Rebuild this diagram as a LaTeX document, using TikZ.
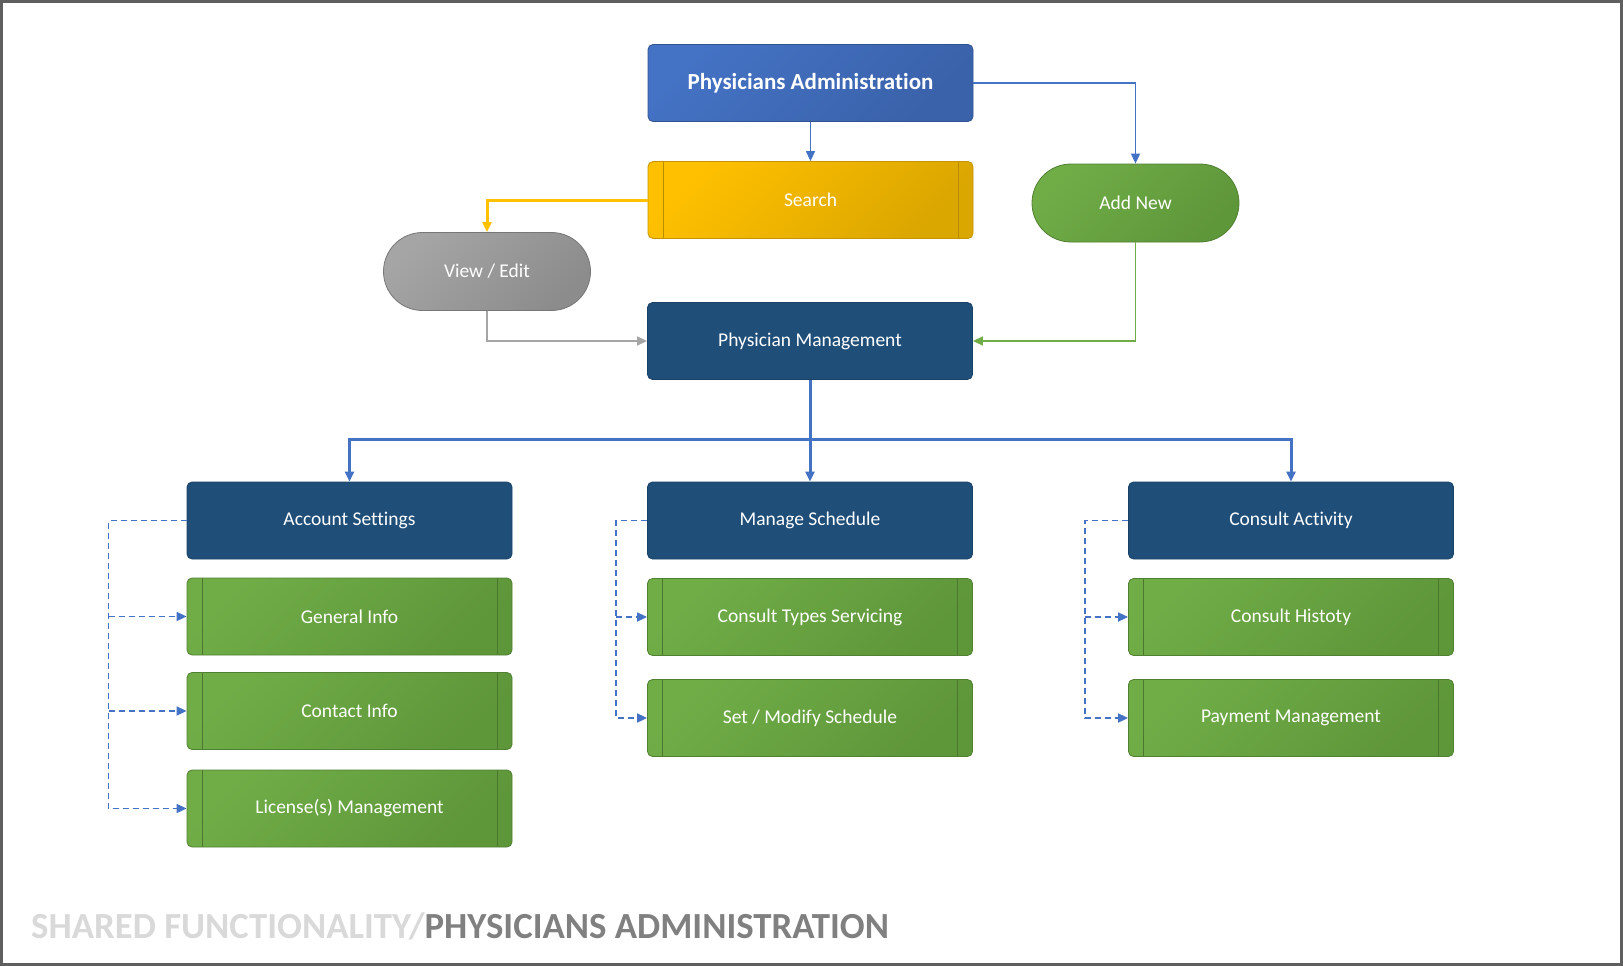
\documentclass[tikz,border=0pt]{standalone}
\usepackage{fontspec}
\setmainfont[Ligatures=NoCommon]{Carlito}
\usetikzlibrary{arrows.meta}
\definecolor{adminblue}{HTML}{4472C4}
\definecolor{adminbluedk}{HTML}{3A62AA}
\definecolor{navyblue}{HTML}{1F4E79}
\definecolor{searchgold}{HTML}{FFC000}
\definecolor{searchgolddk}{HTML}{DAA600}
\definecolor{viewgrey}{HTML}{A5A5A5}
\definecolor{viewgreydk}{HTML}{8C8C8C}
\definecolor{leafgreen}{HTML}{70AD47}
\definecolor{leafgreendk}{HTML}{5E963A}
\definecolor{footlight}{HTML}{D9D9D9}
\definecolor{footdark}{HTML}{808080}
\definecolor{framegrey}{HTML}{5F5F5F}

\begin{document}
\begin{tikzpicture}[x=1pt,y=-1pt,
  box/.style={rectangle, rounded corners=5pt, minimum width=325pt, minimum height=77pt,
    inner sep=0pt, text=white, font=\fontsize{19.5}{22}\selectfont},
  pill/.style={rectangle, rounded corners=39pt, minimum width=207pt, minimum height=78pt,
    inner sep=0pt, text=white, font=\fontsize{19.5}{22}\selectfont},
  sidebars/.style={path picture={
    \draw[#1, line width=0.8pt]
      ([xshift=15pt]path picture bounding box.north west) -- ([xshift=15pt]path picture bounding box.south west)
      ([xshift=-15pt]path picture bounding box.north east) -- ([xshift=-15pt]path picture bounding box.south east);}},
  navybox/.style={box, fill=navyblue, draw=navyblue!85!black, line width=0.8pt},
  greenbox/.style={box, top color=leafgreen, bottom color=leafgreendk, shading angle=45,
    draw=leafgreendk!85!black, line width=0.8pt, sidebars=leafgreendk!80!black},
  link/.style={line width=1.5pt, -{Triangle[length=10pt,width=9pt]}},
  dashlink/.style={link, adminblue, line width=1.7pt, dash pattern=on 6pt off 4pt}
]
\useasboundingbox (0,0) rectangle (1623,966);

% top row
\node[box, top color=adminblue, bottom color=adminbluedk, shading angle=45, draw=adminbluedk!85!black,
  line width=0.8pt, font=\fontsize{23}{26}\selectfont\bfseries] (admin) at (810.5,83) {Physicians Administration};
\node[box, top color=searchgold, bottom color=searchgolddk, shading angle=45, draw=searchgolddk!90!black,
  line width=0.8pt, sidebars=searchgolddk!85!black] (search) at (810.5,200) {Search};
\node[pill, top color=leafgreen, bottom color=leafgreendk, shading angle=45, draw=leafgreendk!85!black,
  line width=0.8pt] (addnew) at (1135.5,203) {Add New};
\node[pill, top color=viewgrey, bottom color=viewgreydk, shading angle=45, draw=viewgreydk!85!black,
  line width=0.8pt] (viewedit) at (487,271.5) {View / Edit};
\node[navybox] (physmgmt) at (810,341) {Physician Management};

% three groups
\node[navybox] (account) at (349.5,520.5) {Account Settings};
\node[greenbox] (general) at (349.5,616.5) {General Info};
\node[greenbox] (contact) at (349.5,711) {Contact Info};
\node[greenbox] (license) at (349.5,808.5) {License(s) Management};

\node[navybox] (schedule) at (810,520.5) {Manage Schedule};
\node[greenbox] (types) at (810,617) {Consult Types Servicing};
\node[greenbox] (setmod) at (810,718) {Set / Modify Schedule};

\node[navybox] (activity) at (1291,520.5) {Consult Activity};
\node[greenbox] (history) at (1291,617) {Consult Histoty};
\node[greenbox] (payment) at (1291,718) {Payment Management};

% connectors
\draw[link, adminblue] (admin) -- (search);
\draw[link, adminblue] (admin.east) -| (addnew.north);
\draw[link, searchgold, line width=3pt] (search.west) -| (viewedit.north);
\draw[link, viewgrey] (viewedit.south) |- (physmgmt.west);
\draw[link, leafgreen] (addnew.south) |- (physmgmt.east);

\draw[adminblue, line width=3pt] (physmgmt.south) -- ++(0,60) coordinate (split);
\draw[link, adminblue, line width=3pt] (split) -| (account.north);
\draw[link, adminblue, line width=3pt] (split) -- (schedule.north);
\draw[link, adminblue, line width=3pt] (split) -| (activity.north);

% dashed sub links
\draw[dashlink] (account.west) -- ++(-78,0) coordinate (accbus) |- (license.west);
\draw[dashlink] (accbus |- general.west) -- (general.west);
\draw[dashlink] (accbus |- contact.west) -- (contact.west);

\draw[dashlink] (schedule.west) -- ++(-31,0) coordinate (schbus) |- (setmod.west);
\draw[dashlink] (schbus |- types.west) -- (types.west);

\draw[dashlink] (activity.west) -- ++(-43,0) coordinate (actbus) |- (payment.west);
\draw[dashlink] (actbus |- history.west) -- (history.west);

% footer and frame
\node[anchor=base west, inner sep=0pt, font=\fontsize{36.8}{40}\selectfont\bfseries] (footer) at (31,938)
  {\textcolor{footlight}{SHARED FUNCTIONALITY/}\textcolor{footdark}{PHYSICIANS ADMINISTRATION}};
\draw[framegrey, line width=3pt] (1.5,1.5) rectangle (1621.5,964.5);
\end{tikzpicture}
\end{document}
